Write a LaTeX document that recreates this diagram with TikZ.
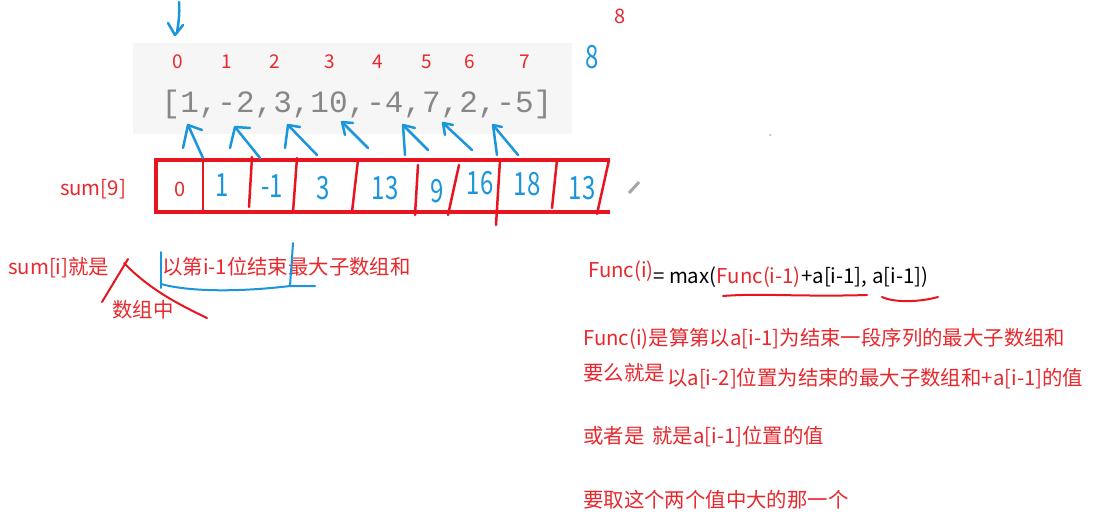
\documentclass[tikz,border=0pt]{standalone}
\usepackage{fontspec}
\setmainfont{Noto Sans CJK SC}
\newfontfamily\monof{Liberation Mono}
\definecolor{txtred}{RGB}{232,40,45}
\definecolor{penblue}{RGB}{27,150,220}
\definecolor{boxred}{RGB}{232,20,32}
\definecolor{arrgray}{RGB}{135,135,135}
\definecolor{bggray}{RGB}{246,246,246}
\begin{document}
\begin{tikzpicture}[x=1pt,y=-1pt,
  redtxt/.style={text=txtred, font=\fontsize{20.4}{24}\selectfont, inner sep=0, anchor=west, text height=15pt, text depth=5pt},
  blktxt/.style={redtxt, text=black},
  idx/.style={text=txtred, font=\fontsize{19}{22}\selectfont, inner sep=0},
  arr/.style={text=arrgray, font=\monof\fontsize{31}{34}\selectfont, inner sep=0},
  hand/.style={text=penblue, font=\fontsize{32}{34}\selectfont, inner sep=0, xscale=0.75},
  pen/.style={draw=penblue, line width=2.5pt, line cap=round, line join=round},
  redpen/.style={draw=boxred, line width=2pt, line cap=round, line join=round},
  boxline/.style={draw=boxred, line width=3.5pt},
  divline/.style={draw=boxred, line width=2.5pt, line cap=round}]
\useasboundingbox[fill=white] (0,0) rectangle (1105,530);

% gray panel with the array
\fill[bggray] (133,43) rectangle (572,134);
\foreach \i/\x in {0/178,1/227,2/275,3/330,4/378,5/427,6/470,7/525}
  \node[idx] (i\i) at (\x,62) {\i};
\node[arr] (arr) at (357,104) {[1,-2,3,10,-4,7,2,-5]};
\node[idx, font=\fontsize{20}{22}\selectfont] (eight) at (620,16) {8};
\node[hand] (beight) at (592,57) {8};

% blue down arrow
\draw[pen] (179,2) .. controls (180,15) and (178,25) .. (177,33);
\draw[pen] (168,23) -- (175,35) -- (183,25);

% sum box
\draw[boxline] (610,160) -- (156,160) -- (156,212) -- (610,212);
\draw[divline] (203,160) -- (203,212);
\draw[divline] (252,157) -- (249,207);
\draw[divline] (297,158) -- (293,212);
\draw[divline] (358,160) -- (352,212);
\draw[divline] (418,165) -- (415,215);
\draw[divline] (459,165) -- (448,215);
\draw[divline] (500,160) -- (496,225);
\draw[divline] (557,160) -- (552,208);
\draw[divline] (609,160) -- (597,214);

\node[redtxt, anchor=center] (sumlbl) at (93,190) {sum[9]};
\node[idx, font=\fontsize{20}{22}\selectfont] (s0) at (180,189) {0};
\node[hand] (s1) at (222,185) {1};
\node[hand] (s2) at (272,186) {-1};
\node[hand] (s3) at (323,188) {3};
\node[hand] (s4) at (385,188) {13};
\node[hand] (s5) at (437,191) {9};
\node[hand] (s6) at (480,183) {16};
\node[hand] (s7) at (527,184) {18};
\node[hand] (s8) at (582,188) {13};

% blue arrows from sum cells to the array
\foreach \sx/\sy/\tx/\ty/\ax/\ay/\bx/\by in {
   203/158/188/125/183/148/202/130,
   260/158/235/127/230/148/250/128,
   317/155/288/125/285/148/300/127,
   368/148/342/122/345/135/353/123,
   428/150/403/125/405/155/415/128,
   472/150/443/123/445/135/453/125,
   518/155/493/125/497/155/502/127}
{
  \draw[pen] (\sx,\sy) -- (\tx,\ty);
  \draw[pen] (\ax,\ay) -- (\tx,\ty) -- (\bx,\by);
}

% pencil cursor and dot
\draw[gray!70, line width=3pt] (629,193) -- (639,182);
\fill[gray!60] (770,135) circle (1);

% left explanation
\node[redtxt] (sumi) at (8,269) {sum[i]就是};
\node[redtxt] (szz) at (112,312) {数组中};
\node[redtxt] (yidi) at (162,269) {以第i-1位结束最大子数组和};
\draw[redpen] (102,302) -- (128,259);
\draw[redpen] (124,263) .. controls (150,290) and (180,305) .. (207,318);
\draw[pen, line width=2pt] (161,252) -- (161,288);
\draw[pen, line width=2pt] (161,284) .. controls (190,292) and (240,292) .. (290,286) -- (315,286);
\draw[pen, line width=2pt] (293,243) -- (290,286);

% formula
\node[redtxt] (f1) at (588,272) {Func(i)};
\node[blktxt] (f2) at (653,278) {= max(};
\node[redtxt] (f3) at (f2.east) {Func(i-1)};
\node[blktxt] (f4) at (f3.east) {+a[i-1], a[i-1])};
\draw[redpen] (723,296) .. controls (760,293) and (800,297) .. (867,295);
\draw[redpen] (882,297) .. controls (895,303) and (920,302) .. (938,297);

% right explanation
\node[redtxt] (l1) at (583,340) {Func(i)是算第以a[i-1]为结束一段序列的最大子数组和};
\node[redtxt] (l2a) at (583,375) {要么就是};
\node[redtxt] (l2b) at (667,380) {以a[i-2]位置为结束的最大子数组和+a[i-1]的值};
\node[redtxt] (l3) at (583,438) {或者是\hspace{8pt}就是a[i-1]位置的值};
\node[redtxt] (l4) at (583,502) {要取这个两个值中大的那一个};
\end{tikzpicture}
\end{document}
